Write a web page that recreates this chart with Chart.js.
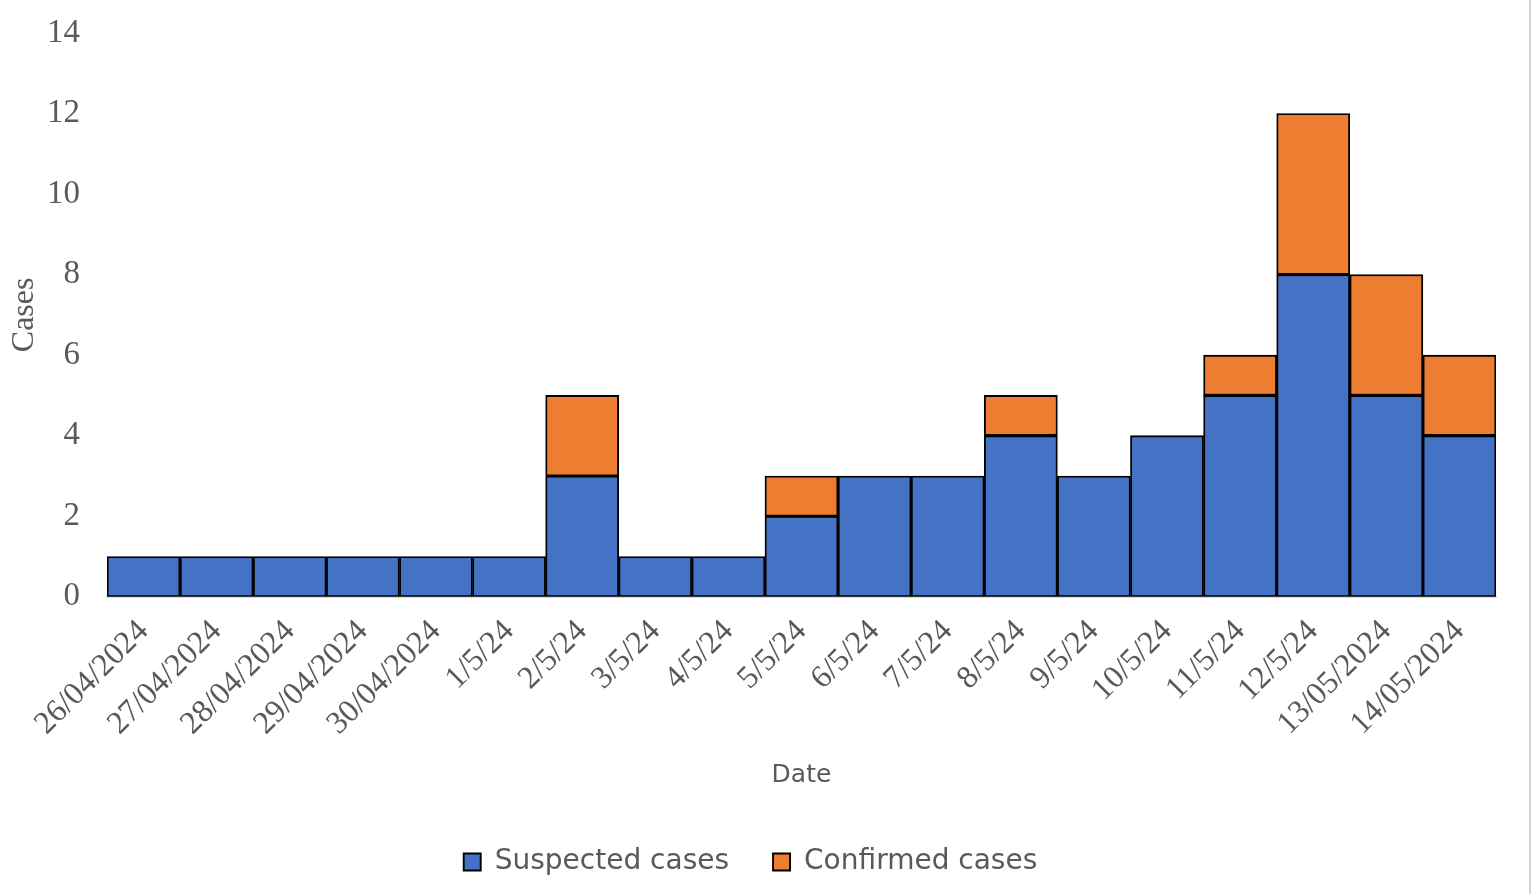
<!DOCTYPE html>
<html>
<head>
<meta charset="utf-8">
<script src="https://cdn.jsdelivr.net/npm/chart.js@4"></script>
<style>
  html, body { margin: 0; padding: 0; background: #fff; }
  #wrap { position: relative; width: 1532px; height: 894px; }
  #edge { position: absolute; left: 1529px; top: 0; width: 2px; height: 894px; background: #d4d4d4; }
</style>
</head>
<body>
<div id="wrap">
  <canvas id="casesChart" width="1532" height="894"></canvas>
  <div id="edge"></div>
</div>
<script>
// Dates on the x axis
const dates = [
    '26/04/2024', '27/04/2024', '28/04/2024', '29/04/2024', '30/04/2024',
    '1/5/24', '2/5/24', '3/5/24', '4/5/24', '5/5/24', '6/5/24', '7/5/24',
    '8/5/24', '9/5/24', '10/5/24', '11/5/24', '12/5/24', '13/05/2024', '14/05/2024'
];

// Case counts per day (null = no bar segment)
const suspectedCases = [1, 1, 1, 1, 1, 1, 3, 1, 1, 2, 3, 3, 4, 3, 4, 5, 8, 5, 4];
const confirmedCases = [null, null, null, null, null, null, 2, null, null, 1, null, null, 1, null, null, 1, 4, 3, 2];

// Y axis range
const yMin = 0;
const yMax = 14;
const yStep = 2;

const textColor = '#595959';
const serif = "'Liberation Serif', 'Times New Roman', serif";
const sans = "'DejaVu Sans', Verdana, sans-serif";

document.addEventListener("DOMContentLoaded", () => {
    const ctx = document.getElementById('casesChart').getContext('2d');

    new Chart(ctx, {
        type: 'bar',
        data: {
            labels: dates,
            datasets: [
                {
                    label: 'Suspected cases',
                    data: suspectedCases,
                    backgroundColor: '#4472C4',
                    borderColor: '#000000',
                    borderWidth: 1.9,
                    borderSkipped: false
                },
                {
                    label: 'Confirmed cases',
                    data: confirmedCases,
                    backgroundColor: '#ED7D31',
                    borderColor: '#000000',
                    borderWidth: 1.9,
                    borderSkipped: false
                }
            ]
        },
        options: {
            responsive: false,
            animation: false,
            barPercentage: 1,
            categoryPercentage: 1,
            layout: {
                padding: { left: 5, right: 36, top: 0, bottom: 8 }
            },
            scales: {
                x: {
                    stacked: true,
                    grid: { display: false, drawTicks: false },
                    border: { display: true, color: '#D9D9D9', width: 2 },
                    ticks: {
                        color: textColor,
                        font: { family: serif, size: 32 },
                        minRotation: 45,
                        maxRotation: 45,
                        autoSkip: false,
                        padding: 16
                    },
                    title: {
                        display: true,
                        text: 'Date',
                        color: textColor,
                        font: { family: sans, size: 25 },
                        padding: { top: 1, bottom: 14 }
                    }
                },
                y: {
                    stacked: true,
                    min: yMin,
                    max: yMax,
                    grid: { display: false, drawTicks: false },
                    border: { display: false },
                    ticks: {
                        stepSize: yStep,
                        color: textColor,
                        font: { family: serif, size: 33 },
                        padding: 27
                    },
                    title: {
                        display: true,
                        text: 'Cases',
                        color: textColor,
                        font: { family: serif, size: 32 },
                        padding: 0
                    },
                    afterFit: (scale) => {
                        scale.width = 102;
                        // keep the top tick close to the canvas edge
                        scale.paddingTop = 33;
                        scale.paddingBottom = 20;
                    }
                }
            },
            plugins: {
                legend: {
                    position: 'bottom',
                    labels: {
                        color: textColor,
                        font: { family: sans, size: 28 },
                        boxWidth: 17,
                        boxHeight: 17,
                        padding: 44
                    }
                },
                tooltip: { enabled: false }
            }
        }
    });
});
</script>
</body>
</html>
